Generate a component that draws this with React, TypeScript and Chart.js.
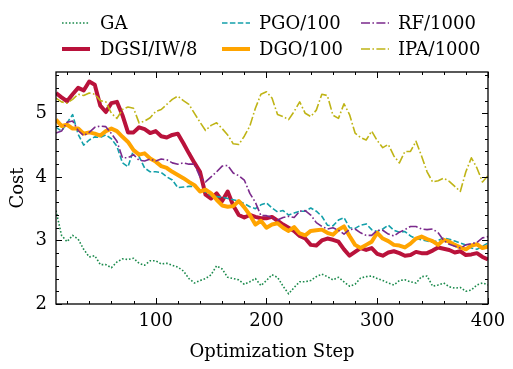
import React, { useEffect, useRef } from 'react';
import { Chart, registerables } from 'chart.js';

Chart.register(...registerables);

const STEPS = [10, 15, 20, 25, 30, 35, 40, 45, 50, 55, 60, 65, 70, 75, 80, 85, 90, 95, 100, 105, 110, 115, 120, 125, 130, 135, 140, 145, 150, 155, 160, 165, 170, 175, 180, 185, 190, 195, 200, 205, 210, 215, 220, 225, 230, 235, 240, 245, 250, 255, 260, 265, 270, 275, 280, 285, 290, 295, 300, 305, 310, 315, 320, 325, 330, 335, 340, 345, 350, 355, 360, 365, 370, 375, 380, 385, 390, 395, 400];

const GA = [3.47, 3.08, 2.98, 3.08, 3.02, 2.86, 2.74, 2.76, 2.62, 2.62, 2.57, 2.66, 2.71, 2.70, 2.72, 2.64, 2.61, 2.68, 2.68, 2.63, 2.64, 2.61, 2.58, 2.52, 2.40, 2.33, 2.37, 2.40, 2.46, 2.60, 2.55, 2.42, 2.40, 2.38, 2.31, 2.35, 2.40, 2.29, 2.37, 2.46, 2.42, 2.28, 2.16, 2.26, 2.35, 2.35, 2.37, 2.43, 2.47, 2.43, 2.38, 2.42, 2.35, 2.28, 2.31, 2.41, 2.43, 2.44, 2.40, 2.37, 2.33, 2.30, 2.37, 2.38, 2.35, 2.33, 2.43, 2.44, 2.28, 2.30, 2.33, 2.27, 2.25, 2.26, 2.20, 2.22, 2.30, 2.33, 2.30];

const DGSI = [5.32, 5.25, 5.19, 5.30, 5.40, 5.36, 5.50, 5.45, 5.12, 5.02, 5.16, 5.18, 4.97, 4.70, 4.70, 4.78, 4.75, 4.69, 4.72, 4.64, 4.62, 4.66, 4.68, 4.53, 4.37, 4.22, 4.08, 3.72, 3.66, 3.74, 3.62, 3.77, 3.55, 3.40, 3.36, 3.40, 3.37, 3.35, 3.35, 3.37, 3.31, 3.25, 3.20, 3.15, 3.07, 3.03, 2.93, 2.92, 3.00, 3.03, 3.01, 2.98, 2.86, 2.76, 2.82, 2.88, 2.85, 2.88, 2.79, 2.76, 2.81, 2.83, 2.80, 2.76, 2.77, 2.82, 2.80, 2.80, 2.84, 2.89, 2.87, 2.85, 2.81, 2.83, 2.77, 2.78, 2.80, 2.74, 2.70];

const PGO = [4.78, 4.72, 4.85, 4.98, 4.67, 4.50, 4.58, 4.63, 4.62, 4.66, 4.60, 4.48, 4.22, 4.16, 4.42, 4.32, 4.14, 4.08, 4.08, 4.07, 4.00, 3.95, 3.83, 3.84, 3.85, 3.85, 3.80, 3.76, 3.70, 3.69, 3.68, 3.66, 3.64, 3.62, 3.58, 3.53, 3.50, 3.56, 3.59, 3.51, 3.45, 3.47, 3.40, 3.43, 3.46, 3.46, 3.51, 3.46, 3.38, 3.24, 3.23, 3.32, 3.36, 3.20, 3.19, 3.24, 3.26, 3.17, 3.14, 3.18, 3.24, 3.16, 3.13, 3.14, 3.07, 3.03, 3.01, 2.99, 2.97, 3.00, 3.04, 3.02, 2.99, 2.96, 2.93, 2.88, 2.86, 2.91, 2.96];

const DGO = [4.90, 4.80, 4.82, 4.76, 4.76, 4.68, 4.70, 4.68, 4.65, 4.72, 4.76, 4.72, 4.63, 4.55, 4.42, 4.35, 4.37, 4.29, 4.24, 4.17, 4.14, 4.08, 4.03, 3.98, 3.92, 3.87, 3.77, 3.80, 3.74, 3.64, 3.55, 3.53, 3.54, 3.62, 3.52, 3.40, 3.25, 3.31, 3.20, 3.25, 3.27, 3.20, 3.15, 3.21, 3.11, 3.08, 3.15, 3.16, 3.17, 3.12, 3.09, 3.17, 3.22, 3.07, 2.93, 2.88, 2.93, 2.98, 3.12, 3.03, 2.99, 2.93, 2.92, 2.89, 2.95, 3.03, 3.06, 3.02, 2.99, 2.93, 3.01, 2.98, 2.93, 2.89, 2.86, 2.92, 2.94, 2.88, 2.90];

const RF = [4.69, 4.72, 4.86, 4.88, 4.73, 4.65, 4.70, 4.78, 4.80, 4.79, 4.68, 4.56, 4.30, 4.30, 4.35, 4.26, 4.25, 4.28, 4.25, 4.28, 4.27, 4.22, 4.20, 4.22, 4.20, 4.20, 4.00, 3.92, 4.00, 4.08, 4.17, 4.18, 4.06, 4.02, 3.95, 3.74, 3.60, 3.39, 3.39, 3.36, 3.32, 3.36, 3.38, 3.36, 3.46, 3.47, 3.40, 3.28, 3.22, 3.18, 3.20, 3.16, 3.10, 3.17, 3.18, 3.12, 3.08, 3.08, 3.16, 3.16, 3.10, 3.07, 3.13, 3.17, 3.22, 3.22, 3.18, 3.17, 3.18, 3.12, 3.00, 2.94, 2.91, 2.88, 2.93, 2.95, 2.97, 3.04, 3.06];

const IPA = [5.24, 5.18, 5.16, 5.22, 5.30, 5.28, 5.32, 5.30, 5.20, 5.18, 5.00, 4.92, 5.06, 5.10, 5.08, 4.85, 4.88, 4.93, 5.03, 5.06, 5.14, 5.22, 5.27, 5.20, 5.14, 5.00, 4.86, 4.73, 4.81, 4.85, 4.76, 4.66, 4.52, 4.51, 4.64, 4.80, 5.08, 5.30, 5.34, 5.24, 4.98, 4.95, 4.90, 5.03, 5.18, 5.00, 4.95, 5.05, 5.30, 5.28, 4.97, 4.92, 5.15, 4.98, 4.69, 4.62, 4.58, 4.72, 4.57, 4.46, 4.51, 4.33, 4.22, 4.40, 4.40, 4.56, 4.33, 4.08, 3.92, 3.94, 3.98, 3.93, 3.85, 3.77, 4.08, 4.30, 4.14, 3.92, 4.02];

const X_TICKS = [100, 200, 300, 400];
const Y_TICKS = [2, 3, 4, 5];
const X_RANGE = [10, 400];
const Y_RANGE = [2, 5.65];

const FONT = '"DejaVu Serif", serif';

type Series = { label: string; data: number[]; color: string; width: number; dash: number[] };

// legend is column-major (matplotlib ncol=3): draw order = this order
const SERIES: Series[] = [
  { label: 'GA', data: GA, color: '#1b8a4c', width: 1.6, dash: [1.6, 1.9] },
  { label: 'DGSI/IW/8', data: DGSI, color: '#b9123b', width: 4, dash: [] },
  { label: 'PGO/100', data: PGO, color: '#13a0aa', width: 1.6, dash: [5.5, 2.4] },
  { label: 'DGO/100', data: DGO, color: '#ffa400', width: 4, dash: [] },
  { label: 'RF/1000', data: RF, color: '#7b2a8c', width: 1.6, dash: [9, 2.4, 1.6, 2.4] },
  { label: 'IPA/1000', data: IPA, color: '#bfb416', width: 1.6, dash: [9, 2.4, 1.6, 2.4] },
];

const LEGEND_COLS = [
  { line: 62, text: 100 },
  { line: 222, text: 259 },
  { line: 361, text: 398 },
];
const LEGEND_ROWS = [23, 49];

const framePlugin = {
  id: 'framePlugin',
  afterDatasetsDraw(chart: any) {
    const { ctx, chartArea: a, scales } = chart;
    const xs = scales.x;
    const ys = scales.y;
    ctx.save();
    ctx.strokeStyle = '#000';
    ctx.lineWidth = 1;
    const xMinor: number[] = [];
    for (let v = 20; v <= 400; v += 20) xMinor.push(v);
    const yMinor: number[] = [];
    for (let k = 11; k <= 28; k++) yMinor.push(k / 5);
    const vTick = (v: number, len: number) => {
      const p = Math.round(xs.getPixelForValue(v)) + 0.5;
      ctx.beginPath();
      ctx.moveTo(p, a.bottom);
      ctx.lineTo(p, a.bottom - len);
      ctx.moveTo(p, a.top);
      ctx.lineTo(p, a.top + len);
      ctx.stroke();
    };
    const hTick = (v: number, len: number) => {
      const p = Math.round(ys.getPixelForValue(v)) + 0.5;
      ctx.beginPath();
      ctx.moveTo(a.left, p);
      ctx.lineTo(a.left + len, p);
      ctx.moveTo(a.right, p);
      ctx.lineTo(a.right - len, p);
      ctx.stroke();
    };
    xMinor.forEach((v) => vTick(v, 3));
    X_TICKS.forEach((v) => vTick(v, 6));
    yMinor.forEach((v) => hTick(v, 3));
    Y_TICKS.forEach((v) => hTick(v, 6));
    ctx.lineWidth = 1.3;
    ctx.strokeRect(a.left, a.top, a.right - a.left, a.bottom - a.top);
    ctx.restore();
  },
  afterDraw(chart: any) {
    const { ctx } = chart;
    ctx.save();
    ctx.font = '18px ' + FONT;
    ctx.textBaseline = 'middle';
    ctx.textAlign = 'left';
    SERIES.forEach((s, i) => {
      const col = LEGEND_COLS[Math.floor(i / 2)];
      const y = LEGEND_ROWS[i % 2];
      ctx.strokeStyle = s.color;
      ctx.lineWidth = s.width;
      ctx.setLineDash(s.dash);
      ctx.lineCap = 'butt';
      ctx.beginPath();
      ctx.moveTo(col.line, y);
      ctx.lineTo(col.line + 28, y);
      ctx.stroke();
      ctx.setLineDash([]);
      ctx.fillStyle = '#000';
      ctx.fillText(s.label, col.text, y + 1);
    });
    ctx.restore();
  },
};

export default function App() {
  const ref = useRef<HTMLCanvasElement>(null);
  useEffect(() => {
    if (!ref.current) return;
    const n = SERIES.length;
    const chart = new Chart(ref.current, {
      type: 'line',
      data: {
        datasets: SERIES.map((s, i) => ({
          label: s.label,
          data: STEPS.map((x, j) => ({ x, y: s.data[j] })),
          borderColor: s.color,
          backgroundColor: s.color,
          borderWidth: s.width,
          borderDash: s.dash,
          borderCapStyle: 'butt',
          borderJoinStyle: 'round',
          pointRadius: 0,
          tension: 0,
          fill: false,
          order: n - i,
        })),
      },
      options: {
        animation: false,
        responsive: true,
        maintainAspectRatio: false,
        layout: { padding: { left: 0, right: 25, top: 72, bottom: 0 } },
        plugins: { legend: { display: false }, tooltip: { enabled: false } },
        scales: {
          x: {
            type: 'linear',
            min: X_RANGE[0],
            max: X_RANGE[1],
            afterBuildTicks: (s: any) => {
              s.ticks = X_TICKS.map((v) => ({ value: v }));
            },
            afterFit: (s: any) => {
              s.height = 65;
            },
            grid: { display: false, drawTicks: false },
            border: { display: false },
            ticks: {
              font: { family: FONT, size: 18 },
              color: '#000',
              padding: 7,
              maxRotation: 0,
              autoSkip: false,
              callback: (v: any) => String(v),
            },
            title: {
              display: true,
              text: 'Optimization Step',
              font: { family: FONT, size: 18 },
              color: '#000',
              padding: { top: 0, bottom: 6 },
            },
          },
          y: {
            type: 'linear',
            min: Y_RANGE[0],
            max: Y_RANGE[1],
            afterBuildTicks: (s: any) => {
              s.ticks = Y_TICKS.map((v) => ({ value: v }));
            },
            afterFit: (s: any) => {
              s.width = 56;
            },
            grid: { display: false, drawTicks: false },
            border: { display: false },
            ticks: {
              font: { family: FONT, size: 18 },
              color: '#000',
              padding: 9,
              callback: (v: any) => String(v),
            },
            title: {
              display: true,
              text: 'Cost',
              font: { family: FONT, size: 18 },
              color: '#000',
              padding: { top: 8, bottom: 0 },
            },
          },
        },
      },
      plugins: [framePlugin],
    } as any);
    return () => chart.destroy();
  }, []);
  return (
    <div style={{ position: 'absolute', left: 0, top: 0, width: 513, height: 369, background: '#fff' }}>
      <canvas ref={ref} />
    </div>
  );
}
